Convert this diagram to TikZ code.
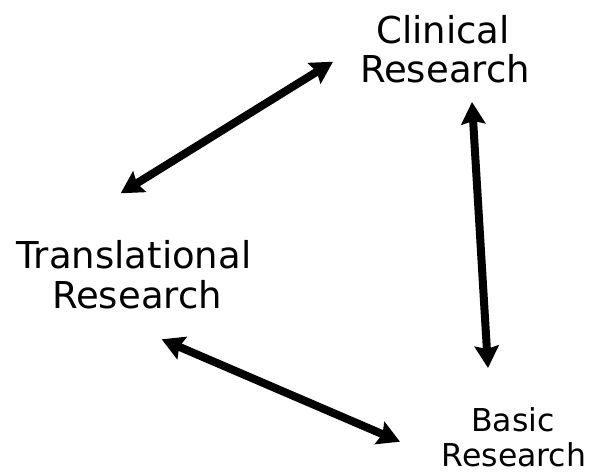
\documentclass[tikz,border=0pt]{standalone}
\usepackage{fontspec}
\setmainfont{DejaVu Sans}
\usetikzlibrary{arrows.meta}
\tikzset{
  bigtxt/.style={font=\fontsize{37}{40}\selectfont, anchor=base, inner sep=0pt},
  smalltxt/.style={font=\fontsize{31.5}{35}\selectfont, anchor=base, inner sep=0pt},
  dblarrow/.style={line width=8pt, {Stealth[length=22pt,width=24pt,inset=3pt]}-{Stealth[length=22pt,width=24pt,inset=3pt]}}
}
\begin{document}
\begin{tikzpicture}[x=1pt,y=-1pt]
\useasboundingbox (0,0) rectangle (592,476);
\node[bigtxt] (clin1) at (443,44) {Clinical};
\node[bigtxt] (clin2) at (445,83) {Research};
\node[bigtxt] (trans1) at (134,268.3) {Translational};
\node[bigtxt] (trans2) at (137,308.3) {Research};
\node[smalltxt] (basic1) at (513,431.7) {Basic};
\node[smalltxt] (basic2) at (514,466.7) {Research};
\coordinate (tc) at (120.7,193.3);
\coordinate (ct) at (333,61.7);
\coordinate (cb) at (472,102);
\coordinate (bc) at (488,368);
\coordinate (tb) at (161.7,339.3);
\coordinate (bt) at (400,441.7);
\draw[dblarrow] (tc) -- (ct);
\draw[dblarrow] (cb) -- (bc);
\draw[dblarrow] (tb) -- (bt);
\end{tikzpicture}
\end{document}
